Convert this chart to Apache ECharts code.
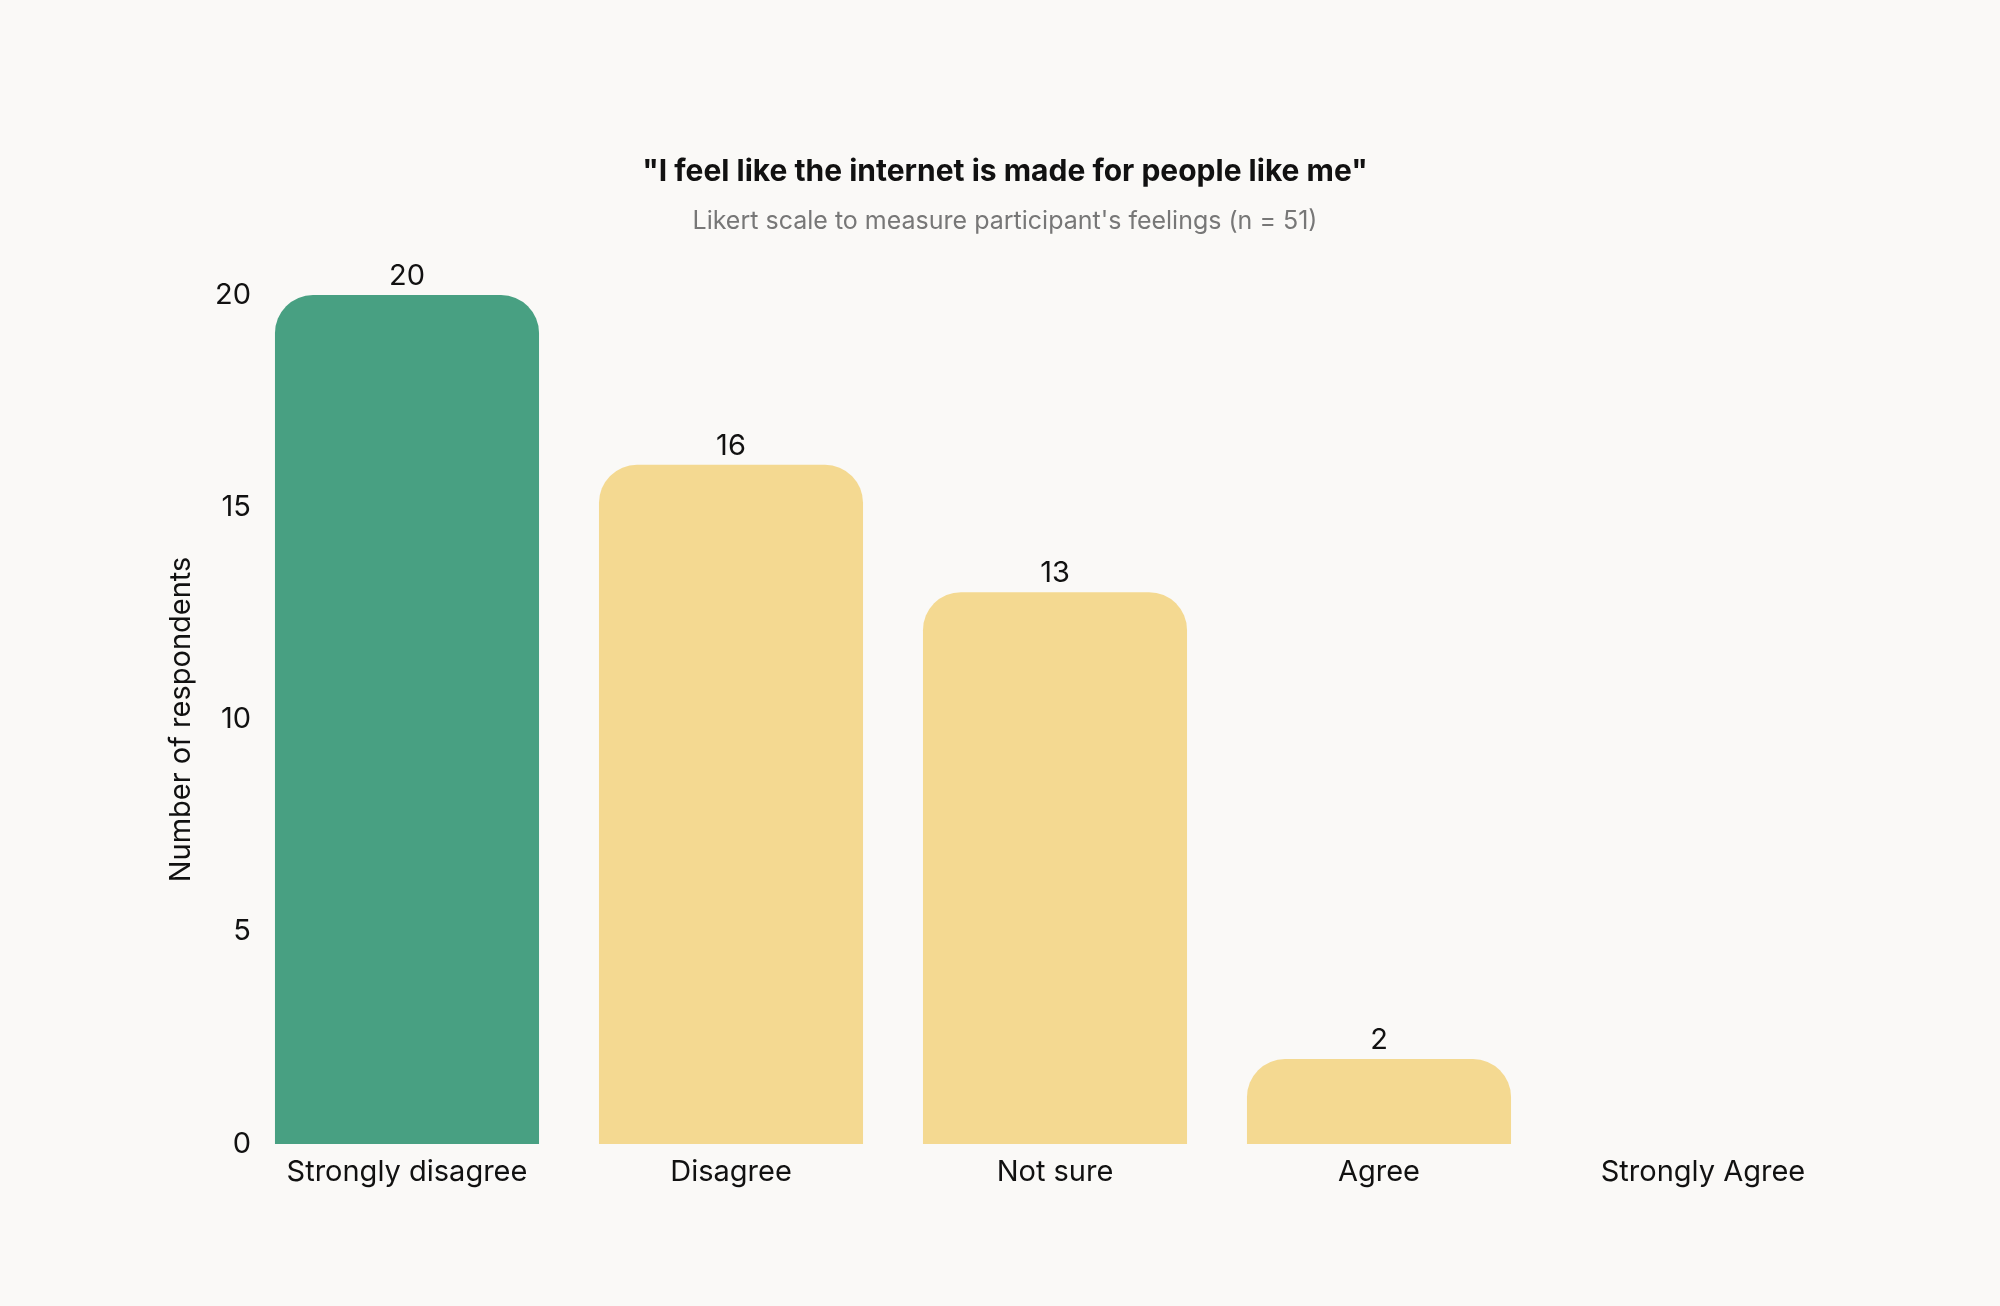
<!DOCTYPE html>
<html><head><meta charset="utf-8">
<script src="https://cdn.jsdelivr.net/npm/echarts@6/dist/echarts.min.js"></script>
<style>html,body{margin:0;padding:0;background:#faf9f7;}#c{width:2000px;height:1306px;}</style>
</head><body><div id="c"></div>
<script>
const categories = ["Strongly disagree", "Disagree", "Not sure", "Agree", "Strongly Agree"];
const respondents = [20, 16, 13, 2, 0];
const yTicks = [0, 5, 10, 15, 20];
const highlightIndex = 0;

const FONT = "Inter";
const chart = echarts.init(document.getElementById('c'));
chart.setOption({
  backgroundColor: '#faf9f7',
  title: {
    text: '"I feel like the internet is made for people like me"',
    subtext: "Likert scale to measure participant's feelings (n = 51)",
    left: 1000, textAlign: 'center', top: 152, itemGap: 22,
    textStyle: { fontFamily: FONT, fontSize: 30, fontWeight: 'bold', color: '#111' },
    subtextStyle: { fontFamily: FONT, fontSize: 25, color: '#777' }
  },
  grid: { left: 245, right: 135, top: 295, bottom: 162, containLabel: false },
  xAxis: {
    type: 'category', data: categories,
    axisLine: { show: false }, axisTick: { show: false },
    axisLabel: { fontFamily: FONT, fontSize: 29, color: '#111', margin: 14 }
  },
  yAxis: {
    type: 'value', min: 0, max: 20, interval: 5,
    name: 'Number of respondents', nameLocation: 'middle', nameGap: 49,
    nameTextStyle: { fontFamily: FONT, fontSize: 29, color: '#111' },
    splitLine: { show: false }, axisLine: { show: false }, axisTick: { show: false },
    axisLabel: { fontFamily: FONT, fontSize: 29, color: '#111', margin: -6,
      formatter: v => yTicks.includes(v) ? String(v) : '' }
  },
  series: [{
    type: 'bar', barCategoryGap: '18.5%',
    data: respondents.map((v, i) => ({
      value: v,
      itemStyle: { color: i === highlightIndex ? '#48a082' : '#f4d991', borderRadius: [38, 38, 0, 0] }
    })),
    label: { show: true, position: 'top', distance: 4, fontFamily: FONT, fontSize: 29, color: '#111',
      formatter: p => p.value ? String(p.value) : '' }
  }]
});
</script></body></html>
